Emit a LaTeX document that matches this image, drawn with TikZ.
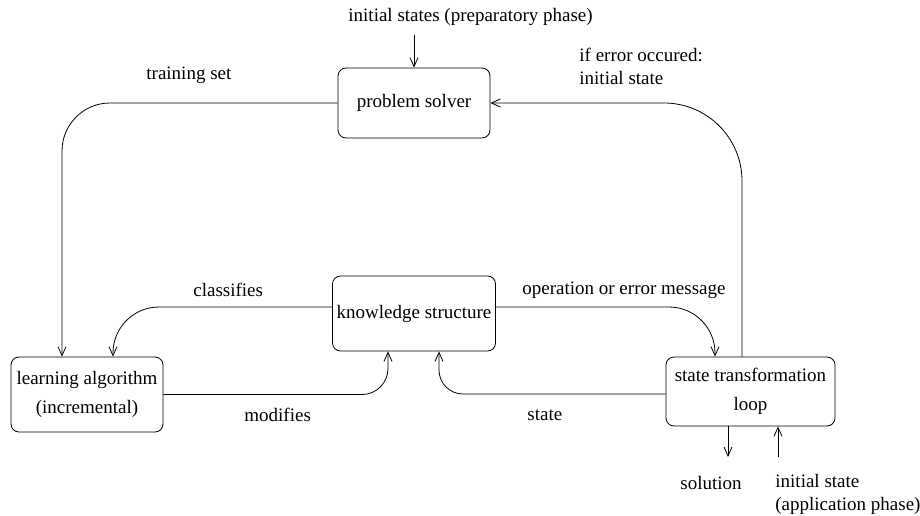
\documentclass[tikz,border=0pt]{standalone}
\usepackage{fontspec}
\setmainfont{Liberation Serif}
\usetikzlibrary{arrows.meta,positioning}

\begin{document}
\begin{tikzpicture}[x=1pt,y=-1pt,>={Straight Barb[length=9pt,width=8pt]}, line width=0.8pt,
    every node/.style={font=\fontsize{19}{29}\selectfont}]
    \tikzset{box/.style={draw,rounded corners=8pt,align=center,inner sep=2pt}}
    \tikzset{lbl/.style={anchor=west,align=left,inner sep=0pt,font=\fontsize{19}{23}\selectfont}}
    \useasboundingbox (0,0) rectangle (920,516);

    % Boxes
    \node[box,minimum width=152pt,minimum height=70pt] (ps) at (414,103) {problem solver};
    \node[box,minimum width=163pt,minimum height=75pt] (ks) at (414,313.5) {knowledge structure};
    \node[box,minimum width=152pt,minimum height=75pt] (la) at (87,394.5) {learning algorithm\\(incremental)};
    \node[box,minimum width=169pt,minimum height=69pt] (st) at (750.5,391.5) {state transformation\\loop};

    % Labels
    \node[lbl] (initprep) at (348,17) {initial states (preparatory phase)};
    \node[lbl] (trainset) at (146,75) {training set};
    \node[lbl] (iferror) at (579,66.5) {if error occured:\\initial state};
    \node[lbl] (classify) at (193,290) {classifies};
    \node[lbl] (opmsg) at (522,290) {operation or error message};
    \node[lbl] (modify) at (244,415) {modifies};
    \node[lbl] (statelbl) at (527,415) {state};
    \node[lbl] (solution) at (680,483) {solution};
    \node[lbl] (initapp) at (775,494) {initial state\\(application phase)};

    \coordinate (topend) at (414,35);
    \coordinate (solend) at (728,457);
    \coordinate (initend) at (778,457);

    % Connectors
    \draw[->] (topend) -- (ps.north);
    \draw[->,rounded corners=48pt] (ps.west) -| ([xshift=-25pt]la.north);
    \draw[->,rounded corners=78pt] ([xshift=-8.5pt]st.north) |- (ps.east);
    \draw[->,rounded corners=46pt] ([yshift=6.5pt]ks.west) -| ([xshift=26pt]la.north);
    \draw[->,rounded corners=26pt] (la.east) -| ([xshift=-26pt]ks.south);
    \draw[->,rounded corners=46pt] ([yshift=6.5pt]ks.east) -| ([xshift=-35.5pt]st.north);
    \draw[->,rounded corners=24pt] ([yshift=-2.5pt]st.west) -| ([xshift=25pt]ks.south);
    \draw[->] ([xshift=-22.5pt]st.south) -- (solend);
    \draw[->] (initend) -- ([xshift=27.5pt]st.south);
\end{tikzpicture}
\end{document}
